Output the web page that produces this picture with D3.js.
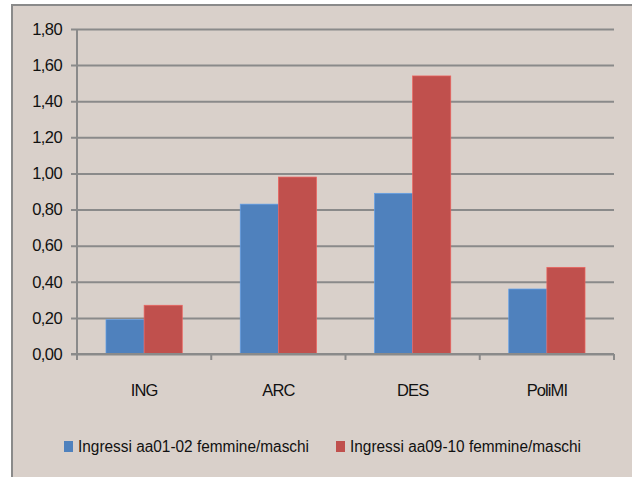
<!DOCTYPE html>
<html><head><meta charset="utf-8">
<script src="https://cdn.jsdelivr.net/npm/d3@7/dist/d3.min.js"></script>
<style>
html,body{margin:0;padding:0;background:#fff;}
svg{display:block;}
text{font-family:"Liberation Sans Narrow","Liberation Sans",Arial,sans-serif;fill:#111;}
</style></head>
<body>
<svg id="c" width="632" height="477"></svg>
<script>
const categories = ["ING", "ARC", "DES", "PoliMI"];
const seriesNames = ["Ingressi aa01-02 femmine/maschi", "Ingressi aa09-10 femmine/maschi"];
const series1 = [0.19, 0.83, 0.89, 0.36];
const series2 = [0.27, 0.98, 1.54, 0.48];
const yTicks = [0, 0.2, 0.4, 0.6, 0.8, 1.0, 1.2, 1.4, 1.6, 1.8];
const colors = ["#4F81BD", "#C0504D"];

const svg = d3.select("#c");
const bg = "#D9D0CA", gridC = "#8A8A8A";
const ff = '"Liberation Sans Narrow","Liberation Sans",Arial,sans-serif';
svg.append("rect").attr("x",12).attr("y",5).attr("width",640).attr("height",480)
  .attr("fill",bg).attr("stroke",gridC).attr("stroke-width",2);

const x0 = 77, x1 = 614, yTop = 29, yBot = 354;
const y = d3.scaleLinear().domain([0,1.8]).range([yBot,yTop]);
const x = d3.scaleBand().domain(categories).range([x0,x1]).paddingInner(0).paddingOuter(0);
const xs = d3.scaleBand().domain([0,1]).range([0, x.bandwidth()]).paddingInner(0).paddingOuter(0.76);

const fmt = v => d3.format(".2f")(v).replace(".", ",");
// grid
const yAxis = d3.axisLeft(y).tickValues(yTicks).tickFormat(fmt).tickSize(-(x1-x0)).tickPadding(15);
const ga = svg.append("g").attr("transform",`translate(${x0},0)`).call(yAxis);
ga.select(".domain").remove();
ga.selectAll(".tick line").attr("stroke",gridC).attr("stroke-width",2).attr("x1",-6);
ga.selectAll(".tick text").attr("font-size",16.5).attr("fill","#111")
  .style("font-family",ff).attr("letter-spacing","-0.6");

// bars
const data = categories.map((c,i)=>({c, v:[series1[i], series2[i]]}));
const g = svg.append("g");
data.forEach(d=>{
  d.v.forEach((v,k)=>{
    g.append("rect").attr("x", x(d.c)+xs(k)).attr("width", xs.bandwidth())
      .attr("y", y(v)).attr("height", y(0)-y(v)).attr("fill", colors[k])
      .attr("stroke", d3.color(colors[k]).brighter(0.6)).attr("stroke-width",0.7);
  });
});

// axes lines
svg.append("line").attr("x1",x0).attr("x2",x0).attr("y1",yTop).attr("y2",yBot+6).attr("stroke",gridC).attr("stroke-width",2);
const xAxis = d3.axisBottom(x).tickSize(0).tickPadding(30);
const gx = svg.append("g").attr("transform",`translate(0,${yBot})`).call(xAxis);
gx.select(".domain").remove();
gx.selectAll(".tick text").attr("font-size",16.5).attr("fill","#111")
  .style("font-family",ff).attr("letter-spacing","-0.9");
svg.append("line").attr("x1",x0-6).attr("x2",x1).attr("y1",yBot).attr("y2",yBot).attr("stroke",gridC).attr("stroke-width",2);
categories.forEach(c=>{
  const xe = x(c)+x.bandwidth();
  svg.append("line").attr("x1",xe).attr("x2",xe).attr("y1",yBot).attr("y2",yBot+6).attr("stroke",gridC).attr("stroke-width",2);
});

// legend
const legX = [64, 336];
seriesNames.forEach((n,k)=>{
  svg.append("rect").attr("x",legX[k]).attr("y",441).attr("width",9).attr("height",11).attr("fill",colors[k]);
  svg.append("text").attr("x",legX[k]+14).attr("y",452).attr("font-size",16)
    .attr("textLength",231).attr("lengthAdjust","spacingAndGlyphs").text(n);
});
</script>
</body></html>
